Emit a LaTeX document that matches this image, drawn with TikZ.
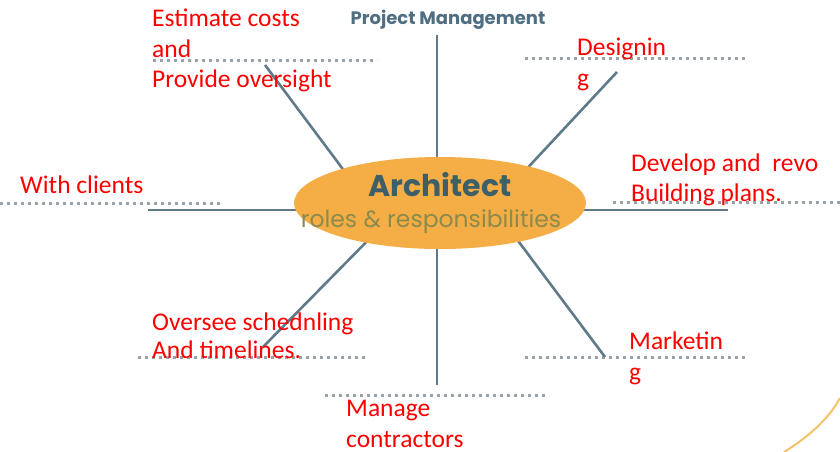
\documentclass[tikz,border=0pt]{standalone}
\usepackage{fontspec}
\setmainfont{Carlito}
\newfontfamily\archfont{Poppins}
\usepackage{tikz}
\usetikzlibrary{shapes.geometric}
\definecolor{spokeblue}{HTML}{5F7A88}
\definecolor{dotgrey}{HTML}{9AA2A7}
\definecolor{archorange}{HTML}{F5AE45}
\definecolor{archteal}{HTML}{3E5F66}
\definecolor{roleolive}{HTML}{8C8A4C}
\definecolor{pmblue}{HTML}{506E82}
\definecolor{rimorange}{HTML}{F2C36B}

\begin{document}
\begin{tikzpicture}[x=1pt,y=-1pt,
    spoke/.style={spokeblue,line width=2.6pt},
    dots/.style={dotgrey,line width=3pt,dash pattern=on 3pt off 4pt},
    duty/.style={red,anchor=base west,align=left,inner sep=0pt,
                 font=\fontsize{25.5}{31}\selectfont}]
          \useasboundingbox (0,0) rectangle (840,452);

          % dotted guide lines
          \coordinate (tlL) at (153,61);  \coordinate (tlR) at (377,61);
          \coordinate (trL) at (525,59);  \coordinate (trR) at (748,59);
          \coordinate (lL) at (0,203);    \coordinate (lR) at (222,203);
          \coordinate (rL) at (613,202);  \coordinate (rR) at (840,202);
          \coordinate (blL) at (138,357); \coordinate (blR) at (365,357);
          \coordinate (brL) at (525,357); \coordinate (brR) at (748,357);
          \coordinate (bL) at (325,395);  \coordinate (bR) at (548,395);

          \draw[dots] (tlL) -- (tlR);
          \draw[dots] (trL) -- (trR);
          \draw[dots] (lL) -- (lR);
          \draw[dots] (rL) -- (rR);
          \draw[dots] (blL) -- (blR);
          \draw[dots] (brL) -- (brR);
          \draw[dots] (bL) -- (bR);

          % spokes, inner ends hidden under the ellipse
          \coordinate (tlOut) at (265,65);  \coordinate (tlIn) at (360,192);
          \coordinate (tOut) at (437,35);   \coordinate (tIn) at (437,190);
          \coordinate (trOut) at (617,72);  \coordinate (trIn) at (506,191);
          \coordinate (rOut) at (728,210);  \coordinate (rIn) at (560,210);
          \coordinate (brOut) at (605,357); \coordinate (brIn) at (501,218);
          \coordinate (bOut) at (437,385);  \coordinate (bIn) at (437,215);
          \coordinate (blOut) at (263,347); \coordinate (blIn) at (383,225);
          \coordinate (lOut) at (148,210);  \coordinate (lIn) at (320,210);

          \draw[spoke] (tlOut) -- (tlIn);
          \draw[spoke] (tOut) -- (tIn);
          \draw[spoke] (trOut) -- (trIn);
          \draw[spoke] (rOut) -- (rIn);
          \draw[spoke] (brOut) -- (brIn);
          \draw[spoke] (bOut) -- (bIn);
          \draw[spoke] (blOut) -- (blIn);
          \draw[spoke] (lOut) -- (lIn);

          \node[ellipse,fill=archorange,minimum width=292pt,minimum height=92pt,
                inner sep=0pt] (arch) at (440,203) {};
          \node[archteal,anchor=base,inner sep=0pt,
                font=\archfont\bfseries\fontsize{30}{30}\selectfont]
                (archname) at (440,196) {Architect};
          \node[roleolive,anchor=base,inner sep=0pt,
                font=\archfont\fontsize{23.5}{23.5}\selectfont]
                (archroles) at (431,227) {roles \& responsibilities};

          \node[pmblue,anchor=base,inner sep=0pt,
                font=\archfont\bfseries\fontsize{18}{18}\selectfont]
                (pm) at (448,25) {Project Management};

          % duties in red
          \node[duty] (costs) at (152,88) {Estimate costs\\and\\Provide oversight};
          \node[duty] (design) at (577,86) {Designin\\g};
          \node[duty] (clients) at (20,193) {With clients};
          \node[duty,font=\fontsize{25.5}{30}\selectfont] (plans) at (631,201)
                {Develop and\ \ revo\\Building plans.};
          \node[duty,font=\fontsize{25.5}{28}\selectfont] (sched) at (152,358)
                {Oversee schednling\\And timelines.};
          \node[duty] (contr) at (346,447) {Manage\\contractors};
          \node[duty] (market) at (629,380) {Marketin\\g};

          % rim of the page in the corner
          \coordinate (rimA) at (784,452);
          \coordinate (rimB) at (840,398);
          \draw[rimorange,line width=2pt] (rimA) .. controls (808,437) and (828,420) .. (rimB);
        \end{tikzpicture}
\end{document}
